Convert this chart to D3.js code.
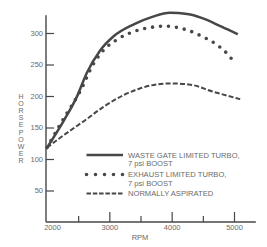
<!DOCTYPE html>
<html>
<head>
<meta charset="utf-8">
<script src="https://d3js.org/d3.v7.min.js"></script>
<style>
  body { margin: 0; background: #fff; }
  text { font-family: "Liberation Sans", Arial, sans-serif; fill: #6a6a6a; }
</style>
</head>
<body>
<script>
  // values (rpm, horsepower)
  var wasteRpm = [2000, 2270, 2480, 2640, 2850, 3060, 3400, 3700, 3970, 4250, 4480, 4800, 5060];
  var wasteHp  = [118, 161, 199, 237, 272, 294, 314, 326, 332, 330, 324, 310, 298];

  var exhaustRpm = [2000, 2290, 2530, 2740, 2920, 3130, 3480, 3750, 3880, 4010, 4270, 4500, 4730, 4920, 5000];
  var exhaustHp  = [118, 168, 207, 250, 274, 290, 305, 310, 311, 310, 304, 294, 281, 264, 254];

  var naRpm = [2000, 2270, 2590, 2910, 3240, 3490, 3970, 4300, 4660, 5100];
  var naHp  = [118, 138, 160, 183, 202, 212, 220, 218, 207, 195];

  var xMajor = [2000, 3000, 4000, 5000];
  var xMinor = [2500, 3500, 4500];
  var yTicks = [50, 100, 150, 200, 250, 300];

  var legendText = [
    ["WASTE GATE LIMITED TURBO,", "7 psi BOOST"],
    ["EXHAUST LIMITED TURBO,", "7 psi BOOST"],
    ["NORMALLY ASPIRATED"]
  ];
  var yTitle = "HORSEPOWER";

  var ink = "#474747";

  var svg = d3.select("body").append("svg")
      .attr("width", 267)
      .attr("height", 247);

  var x = d3.scaleLinear().domain([2000, 5000]).range([47, 234]);
  var y = d3.scaleLinear().domain([0, 300]).range([222, 33]);

  // axes
  var gy = svg.append("g")
      .attr("transform", "translate(46,0)")
      .call(d3.axisLeft(y).tickValues(yTicks).tickSize(-8).tickPadding(3));
  gy.select(".domain").remove();
  gy.selectAll("line").attr("stroke", ink).attr("stroke-width", 1.2);
  gy.selectAll("text").style("font-size", "7.5px").attr("fill", "#777");

  var gx = svg.append("g")
      .attr("transform", "translate(0,222)")
      .call(d3.axisBottom(x).tickValues(xMajor).tickFormat(d3.format("d")).tickSize(-10).tickPadding(3));
  gx.select(".domain").remove();
  gx.selectAll(".tick").filter(function (d) { return d === 2000; }).select("line").remove();
  gx.selectAll(".tick").filter(function (d) { return d === 2000; }).select("text").attr("dx", 5);
  gx.selectAll("line").attr("stroke", ink).attr("stroke-width", 1.2);
  gx.selectAll("text").style("font-size", "7.5px").attr("fill", "#777");

  var gm = svg.append("g")
      .attr("transform", "translate(0,222)")
      .call(d3.axisBottom(x).tickValues(xMinor).tickFormat("").tickSize(-6));
  gm.select(".domain").remove();
  gm.selectAll("line").attr("stroke", ink).attr("stroke-width", 1.2);

  // axis lines
  svg.append("line")
      .attr("x1", 46).attr("x2", 46)
      .attr("y1", y(0)).attr("y2", y(328))
      .attr("stroke", ink).attr("stroke-width", 1.4);
  svg.append("line")
      .attr("x1", 46).attr("x2", x(5350))
      .attr("y1", y(0)).attr("y2", y(0))
      .attr("stroke", ink).attr("stroke-width", 1.4);

  svg.append("text")
      .attr("x", 140).attr("y", 240)
      .attr("text-anchor", "middle")
      .style("font-size", "7.5px")
      .text("RPM");

  svg.append("g").selectAll("text")
      .data(yTitle.split(""))
      .enter().append("text")
      .attr("x", 21)
      .attr("y", function (d, i) { return 99 + i * 7.1; })
      .attr("text-anchor", "middle")
      .style("font-size", "7px")
      .text(function (d) { return d; });

  // curves
  var line = d3.line()
      .x(function (d) { return x(d[0]); })
      .y(function (d) { return y(d[1]); })
      .curve(d3.curveMonotoneX);

  function pairs(a, b) { return a.map(function (v, i) { return [v, b[i]]; }); }

  svg.append("path")
      .datum(pairs(naRpm, naHp))
      .attr("d", line)
      .attr("fill", "none")
      .attr("stroke", ink)
      .attr("stroke-width", 2)
      .attr("stroke-dasharray", "5 2.2");

  svg.append("path")
      .datum(pairs(exhaustRpm, exhaustHp))
      .attr("d", line)
      .attr("fill", "none")
      .attr("stroke", ink)
      .attr("stroke-width", 3.6)
      .attr("stroke-linecap", "round")
      .attr("stroke-dasharray", "0 8");

  svg.append("path")
      .datum(pairs(wasteRpm, wasteHp))
      .attr("d", line)
      .attr("fill", "none")
      .attr("stroke", ink)
      .attr("stroke-width", 2.5);

  // legend
  var leg = svg.append("g");
  var legY = [155, 174.5, 193.5];
  var legStyle = [
    { w: 2.5, dash: null, cap: "butt" },
    { w: 3.6, dash: "0 9", cap: "round" },
    { w: 2, dash: "4.5 1.8", cap: "butt" }
  ];
  legendText.forEach(function (lines, i) {
    leg.append("line")
        .attr("x1", 86.5).attr("x2", 123)
        .attr("y1", legY[i]).attr("y2", legY[i])
        .attr("stroke", ink)
        .attr("stroke-width", legStyle[i].w)
        .attr("stroke-linecap", legStyle[i].cap)
        .attr("stroke-dasharray", legStyle[i].dash);
    leg.append("g").selectAll("text")
        .data(lines)
        .enter().append("text")
        .attr("x", 128)
        .attr("y", function (d, j) { return legY[i] + 2.7 + j * 8.3; })
        .style("font-size", "7.6px")
        .text(function (d) { return d; });
  });
</script>
</body>
</html>
